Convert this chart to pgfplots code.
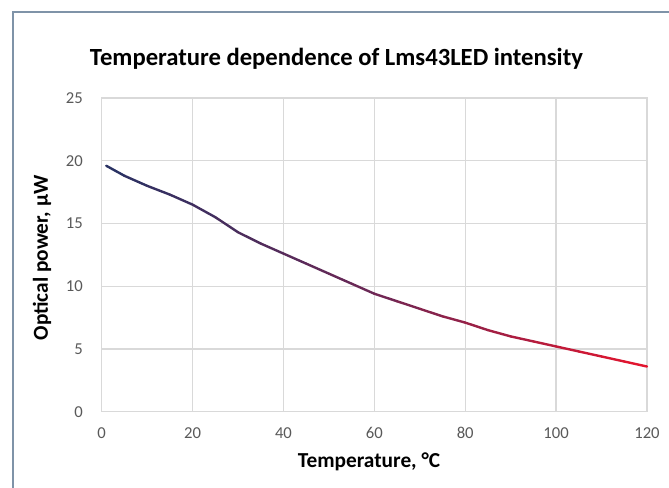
\documentclass[border=0pt]{standalone}
\usepackage{pgfplots}
\pgfplotsset{compat=1.18}
\usepackage{fontspec}
\setmainfont{Carlito}
\definecolor{framecol}{HTML}{7F93A8}
\definecolor{gridcol}{HTML}{D9D9D9}
\definecolor{tickcol}{HTML}{595959}
\begin{document}
\begin{tikzpicture}
% page = reference frame, axis box at origin
\useasboundingbox (-76.3pt,-56.5pt) rectangle (425.5pt,308.8pt);
\begin{axis}[
  at={(0,0)}, anchor=south west,
  scale only axis,
  width=409pt, height=235.3pt,
  xmin=0, xmax=120, ymin=0, ymax=25,
  xtick={0,20,...,120}, ytick={0,5,...,25},
  grid=major,
  major grid style={gridcol, line width=1pt},
  axis line style={gridcol, line width=1pt},
  tick style={draw=none},
  ticklabel style={font=\fontsize{12.5}{14}\selectfont, text=tickcol},
  xticklabel style={anchor=center, yshift=-16pt},
  yticklabel style={anchor=east, inner sep=0pt, xshift=-14pt},
  /pgf/number format/assume math mode=true,
  colormap={navyred}{rgb255(0)=(40,50,100); rgb255(1)=(110,40,85); rgb255(2)=(230,20,45)},
  clip=false,
]
\addplot[mesh, point meta=x, line width=1.8pt, line cap=round, line join=round]
  coordinates {
    (1,19.6) (5,18.8) (10,18.0) (15,17.3) (20,16.5) (25,15.5) (30,14.3)
    (35,13.4) (40,12.6) (45,11.8) (50,11.0) (55,10.2) (60,9.4) (65,8.8)
    (70,8.2) (75,7.6) (80,7.1) (85,6.5) (90,6.0) (95,5.6) (100,5.2)
    (105,4.8) (110,4.4) (115,4.0) (120,3.6)
  };
\end{axis}
\node[font=\bfseries\fontsize{18.5}{22}\selectfont] at (176.1pt,265pt)
  {Temperature dependence of Lms43LED intensity};
\node[font=\bfseries\fontsize{16}{19}\selectfont] at (200.5pt,-37.7pt)
  {Temperature, °C};
\node[font=\bfseries\fontsize{16}{19}\selectfont, rotate=90] at (-44.8pt,115.3pt)
  {Optical power, µW};
\draw[framecol, line width=1.1pt] (-66.5pt,-70pt) -- (-66.5pt,299.8pt) -- (440pt,299.8pt);
\end{tikzpicture}
\end{document}
